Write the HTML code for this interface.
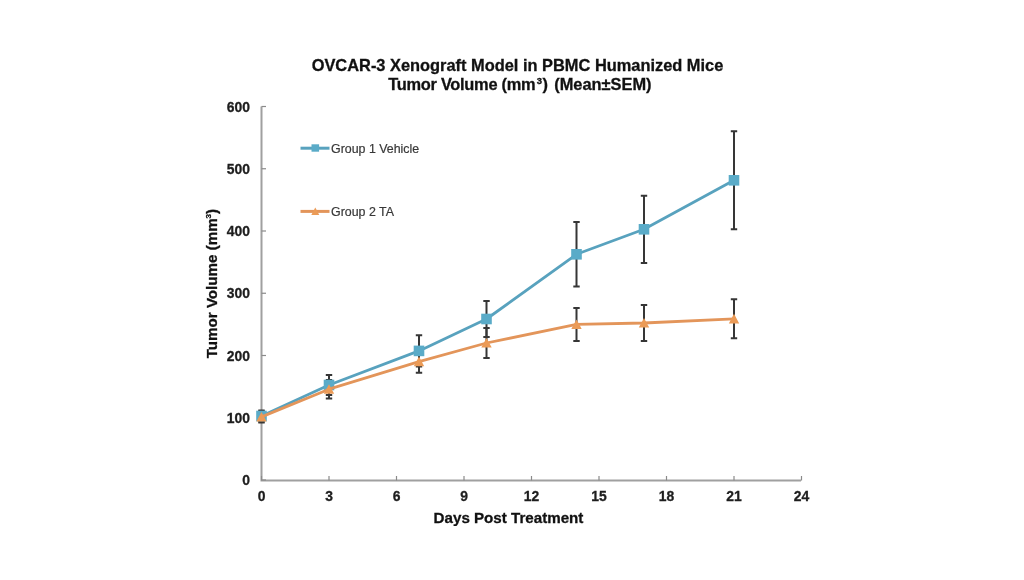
<!DOCTYPE html>
<html><head><meta charset="utf-8"><style>
html,body{margin:0;padding:0;background:#fff;width:1024px;height:580px;overflow:hidden}
svg{display:block;filter:blur(0.35px)}
text{font-family:"Liberation Sans",sans-serif;white-space:pre}
.tk{font-size:13.9px;font-weight:bold;fill:#1e1e1e;stroke:#1e1e1e;stroke-width:0.3px}
.lg{font-size:12.4px;fill:#383838;stroke:#383838;stroke-width:0.2px}
.ti{font-size:16.4px;font-weight:bold;fill:#111;stroke:#111;stroke-width:0.3px}
.ax{font-size:15.15px;font-weight:bold;fill:#111;stroke:#111;stroke-width:0.3px}
</style></head><body>
<svg width="1024" height="580" viewBox="0 0 1024 580">
<path d="M261.5 106.5 V480.5 H801" fill="none" stroke="#A0A0A0" stroke-width="2"/>
<line x1="261.5" y1="480.00" x2="266" y2="480.00" stroke="#8a8a8a" stroke-width="1.2"/>
<text x="250" y="485.00" text-anchor="end" class="tk">0</text>
<line x1="261.5" y1="417.75" x2="266" y2="417.75" stroke="#8a8a8a" stroke-width="1.2"/>
<text x="250" y="422.75" text-anchor="end" class="tk">100</text>
<line x1="261.5" y1="355.50" x2="266" y2="355.50" stroke="#8a8a8a" stroke-width="1.2"/>
<text x="250" y="360.50" text-anchor="end" class="tk">200</text>
<line x1="261.5" y1="293.25" x2="266" y2="293.25" stroke="#8a8a8a" stroke-width="1.2"/>
<text x="250" y="298.25" text-anchor="end" class="tk">300</text>
<line x1="261.5" y1="231.00" x2="266" y2="231.00" stroke="#8a8a8a" stroke-width="1.2"/>
<text x="250" y="236.00" text-anchor="end" class="tk">400</text>
<line x1="261.5" y1="168.75" x2="266" y2="168.75" stroke="#8a8a8a" stroke-width="1.2"/>
<text x="250" y="173.75" text-anchor="end" class="tk">500</text>
<line x1="261.5" y1="106.50" x2="266" y2="106.50" stroke="#8a8a8a" stroke-width="1.2"/>
<text x="250" y="111.50" text-anchor="end" class="tk">600</text>
<line x1="261.50" y1="480.5" x2="261.50" y2="476" stroke="#8a8a8a" stroke-width="1.2"/>
<text x="261.50" y="500.5" text-anchor="middle" class="tk">0</text>
<line x1="329.00" y1="480.5" x2="329.00" y2="476" stroke="#8a8a8a" stroke-width="1.2"/>
<text x="329.00" y="500.5" text-anchor="middle" class="tk">3</text>
<line x1="396.50" y1="480.5" x2="396.50" y2="476" stroke="#8a8a8a" stroke-width="1.2"/>
<text x="396.50" y="500.5" text-anchor="middle" class="tk">6</text>
<line x1="464.00" y1="480.5" x2="464.00" y2="476" stroke="#8a8a8a" stroke-width="1.2"/>
<text x="464.00" y="500.5" text-anchor="middle" class="tk">9</text>
<line x1="531.50" y1="480.5" x2="531.50" y2="476" stroke="#8a8a8a" stroke-width="1.2"/>
<text x="531.50" y="500.5" text-anchor="middle" class="tk">12</text>
<line x1="599.00" y1="480.5" x2="599.00" y2="476" stroke="#8a8a8a" stroke-width="1.2"/>
<text x="599.00" y="500.5" text-anchor="middle" class="tk">15</text>
<line x1="666.50" y1="480.5" x2="666.50" y2="476" stroke="#8a8a8a" stroke-width="1.2"/>
<text x="666.50" y="500.5" text-anchor="middle" class="tk">18</text>
<line x1="734.00" y1="480.5" x2="734.00" y2="476" stroke="#8a8a8a" stroke-width="1.2"/>
<text x="734.00" y="500.5" text-anchor="middle" class="tk">21</text>
<line x1="801.50" y1="480.5" x2="801.50" y2="476" stroke="#8a8a8a" stroke-width="1.2"/>
<text x="801.50" y="500.5" text-anchor="middle" class="tk">24</text>
<path d="M261.50 410.50 V421.50 M258.30 410.50 H264.70 M258.30 421.50 H264.70" stroke="#363636" stroke-width="2" fill="none"/>
<path d="M329.00 375.00 V395.00 M325.80 375.00 H332.20 M325.80 395.00 H332.20" stroke="#363636" stroke-width="2" fill="none"/>
<path d="M419.00 335.30 V366.50 M415.80 335.30 H422.20 M415.80 366.50 H422.20" stroke="#363636" stroke-width="2" fill="none"/>
<path d="M486.50 301.00 V337.00 M483.30 301.00 H489.70 M483.30 337.00 H489.70" stroke="#363636" stroke-width="2" fill="none"/>
<path d="M576.50 222.00 V286.60 M573.30 222.00 H579.70 M573.30 286.60 H579.70" stroke="#363636" stroke-width="2" fill="none"/>
<path d="M644.00 195.70 V262.90 M640.80 195.70 H647.20 M640.80 262.90 H647.20" stroke="#363636" stroke-width="2" fill="none"/>
<path d="M734.00 131.30 V229.30 M730.80 131.30 H737.20 M730.80 229.30 H737.20" stroke="#363636" stroke-width="2" fill="none"/>
<path d="M261.50 411.40 V422.40 M258.30 411.40 H264.70 M258.30 422.40 H264.70" stroke="#363636" stroke-width="2" fill="none"/>
<path d="M329.00 380.00 V398.40 M325.80 380.00 H332.20 M325.80 398.40 H332.20" stroke="#363636" stroke-width="2" fill="none"/>
<path d="M419.00 350.40 V372.80 M415.80 350.40 H422.20 M415.80 372.80 H422.20" stroke="#363636" stroke-width="2" fill="none"/>
<path d="M486.50 328.00 V358.00 M483.30 328.00 H489.70 M483.30 358.00 H489.70" stroke="#363636" stroke-width="2" fill="none"/>
<path d="M576.50 307.90 V340.90 M573.30 307.90 H579.70 M573.30 340.90 H579.70" stroke="#363636" stroke-width="2" fill="none"/>
<path d="M644.00 305.00 V341.00 M640.80 305.00 H647.20 M640.80 341.00 H647.20" stroke="#363636" stroke-width="2" fill="none"/>
<path d="M734.00 299.30 V338.30 M730.80 299.30 H737.20 M730.80 338.30 H737.20" stroke="#363636" stroke-width="2" fill="none"/>
<polyline points="261.50,416.00 329.00,385.00 419.00,350.90 486.50,319.00 576.50,254.30 644.00,229.30 734.00,180.30" fill="none" stroke="#58A2BE" stroke-width="2.8" stroke-linejoin="round"/>
<rect x="256.20" y="410.70" width="10.6" height="10.6" fill="#5AABC8"/>
<rect x="323.70" y="379.70" width="10.6" height="10.6" fill="#5AABC8"/>
<rect x="413.70" y="345.60" width="10.6" height="10.6" fill="#5AABC8"/>
<rect x="481.20" y="313.70" width="10.6" height="10.6" fill="#5AABC8"/>
<rect x="571.20" y="249.00" width="10.6" height="10.6" fill="#5AABC8"/>
<rect x="638.70" y="224.00" width="10.6" height="10.6" fill="#5AABC8"/>
<rect x="728.70" y="175.00" width="10.6" height="10.6" fill="#5AABC8"/>
<polyline points="261.50,416.90 329.00,389.20 419.00,361.60 486.50,343.00 576.50,324.40 644.00,323.00 734.00,318.80" fill="none" stroke="#E3955A" stroke-width="2.8" stroke-linejoin="round"/>
<path d="M261.50 411.90 L266.70 421.50 L256.30 421.50 Z" fill="#EB9B57"/>
<path d="M329.00 384.20 L334.20 393.80 L323.80 393.80 Z" fill="#EB9B57"/>
<path d="M419.00 356.60 L424.20 366.20 L413.80 366.20 Z" fill="#EB9B57"/>
<path d="M486.50 338.00 L491.70 347.60 L481.30 347.60 Z" fill="#EB9B57"/>
<path d="M576.50 319.40 L581.70 329.00 L571.30 329.00 Z" fill="#EB9B57"/>
<path d="M644.00 318.00 L649.20 327.60 L638.80 327.60 Z" fill="#EB9B57"/>
<path d="M734.00 313.80 L739.20 323.40 L728.80 323.40 Z" fill="#EB9B57"/>
<line x1="300.5" y1="148.2" x2="329.5" y2="148.2" stroke="#58A2BE" stroke-width="3"/>
<rect x="311.5" y="144.3" width="7.6" height="7.4" fill="#5AABC8"/>
<text x="331" y="152.7" class="lg">Group 1 Vehicle</text>
<line x1="300.5" y1="211.4" x2="329.5" y2="211.4" stroke="#E3955A" stroke-width="3"/>
<path d="M315.3 207.5 L319.3 215 L311.3 215 Z" fill="#EB9B57"/>
<text x="331" y="215.6" class="lg">Group 2 TA</text>
<text x="517.5" y="70.6" text-anchor="middle" class="ti">OVCAR-3 Xenograft Model in PBMC Humanized Mice</text>
<text x="388.2" y="89.8" class="ti" letter-spacing="-0.27">Tumor Volume (mm</text>
<text x="536.8" y="83.9" class="ti" style="font-size:9.5px">3</text>
<text x="542.6" y="89.8" class="ti">)</text>
<text x="554.2" y="89.8" class="ti">(Mean±SEM)</text>
<text x="508.5" y="522.6" text-anchor="middle" class="ax">Days Post Treatment</text>
<text transform="translate(216.6 283.6) rotate(-90)" text-anchor="middle" class="ax">Tumor Volume (mm<tspan style="font-size:8px" dy="-5.5">3</tspan><tspan dy="5.5">)</tspan></text>
</svg>
</body></html>
